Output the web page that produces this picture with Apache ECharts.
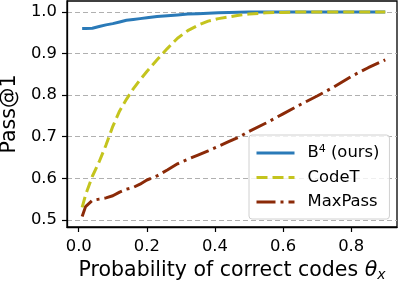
<!DOCTYPE html>
<html><head><meta charset="utf-8">
<script src="https://cdn.jsdelivr.net/npm/echarts@6/dist/echarts.min.js"></script>
<style>html,body{margin:0;padding:0;background:#fff}#c{width:399px;height:287px}</style>
</head><body><div id="c"></div>
<script>
const xs = [0.01,0.02,0.04,0.06,0.08,0.10,0.12,0.14,0.16,0.18,0.20,0.23,0.26,0.29,0.32,0.35,0.38,0.41,0.44,0.47,0.50,0.55,0.60,0.65,0.70,0.75,0.80,0.85,0.90];
const b4 = [0.960,0.960,0.961,0.965,0.969,0.972,0.976,0.980,0.982,0.984,0.986,0.989,0.991,0.993,0.995,0.996,0.997,0.998,0.999,0.9995,1.0,1.0,1.0,1.0,1.0,1.0,1.0,1.0,1.0];
const codeT = [0.530,0.560,0.605,0.640,0.680,0.725,0.762,0.790,0.815,0.837,0.857,0.885,0.912,0.937,0.955,0.968,0.978,0.984,0.988,0.992,0.995,0.998,0.999,1.0,1.0,1.0,1.0,1.0,1.0];
const maxPass = [0.508,0.532,0.547,0.550,0.553,0.558,0.567,0.574,0.578,0.586,0.596,0.606,0.620,0.635,0.646,0.656,0.666,0.677,0.688,0.699,0.713,0.733,0.755,0.777,0.798,0.820,0.845,0.866,0.885];
const xTicks = [0.0,0.2,0.4,0.6,0.8];
const yTicks = [0.5,0.6,0.7,0.8,0.9,1.0];
const seriesNames = ['B4 (ours)','CodeT','MaxPass'];

const pair = ys => xs.map((x,i)=>[x,ys[i]]);
const font = 'DejaVu Sans';
const chart = echarts.init(document.getElementById('c'), null, {renderer:'canvas'});
chart.setOption({
  animation:false,
  backgroundColor:'#fff',
  grid:{left:67,right:2,top:1,bottom:60,outerBoundsMode:'none',containLabel:false,show:true,borderColor:'#000',borderWidth:1.3,backgroundColor:'transparent'},
  xAxis:{type:'value',min:-0.0345,max:0.9345,
    name:'Probability of correct codes {it|θ}{sub|x}',nameLocation:'middle',nameGap:20,
    nameTextStyle:{fontFamily:font,fontSize:20.5,color:'#000',rich:{it:{fontFamily:font,fontSize:20.5,fontStyle:'italic',color:'#000'},sub:{fontFamily:font,fontSize:14,fontStyle:'italic',color:'#000',verticalAlign:'bottom',padding:[10,0,0,0]}}},
    axisLine:{show:true,onZero:false,lineStyle:{color:'#000',width:1.3}},
    axisTick:{show:true,length:5,inside:false,lineStyle:{color:'#000',width:1.2},customValues:xTicks},
    axisLabel:{customValues:xTicks,formatter:v=>v.toFixed(1),fontFamily:font,fontSize:16.4,color:'#000',margin:12},
    splitLine:{show:false}},
  yAxis:{type:'value',min:0.483,max:1.0264,
    name:'Pass@1',nameLocation:'middle',nameGap:42,nameRotate:90,
    nameTextStyle:{fontFamily:font,fontSize:20.5,color:'#000'},
    axisLine:{show:true,onZero:false,lineStyle:{color:'#000',width:1.3}},
    axisTick:{show:true,length:5,inside:false,lineStyle:{color:'#000',width:1.2},customValues:yTicks},
    axisLabel:{customValues:yTicks,formatter:v=>v.toFixed(1),fontFamily:font,fontSize:16.4,color:'#000',margin:10},
    splitLine:{show:true,lineStyle:{color:'#b0b0b0',type:[5,3],width:1}}},
  legend:{orient:'vertical',left:249,top:135,itemWidth:38,itemHeight:14,itemGap:6.5,
    padding:[9,10,8,6],backgroundColor:'rgba(255,255,255,0.8)',borderColor:'#d0d0d0',borderWidth:1,borderRadius:3,
    itemStyle:{opacity:0},lineStyle:{width:3},
    formatter:n=>n==='B4 (ours)'?'B{sup|4} (ours)':n,
    textStyle:{fontFamily:font,fontSize:16.4,lineHeight:18,color:'#000',padding:[0,0,0,8],rich:{sup:{fontFamily:font,fontSize:11,color:'#000',verticalAlign:'top',padding:[0,0,8,0]}}},
    data:seriesNames},
  series:[
    {name:seriesNames[0],type:'line',data:pair(b4),symbol:'none',lineStyle:{color:'#2a7ab8',width:3,cap:'butt'},itemStyle:{color:'#2a7ab8'},z:3},
    {name:seriesNames[1],type:'line',data:pair(codeT),symbol:'none',lineStyle:{color:'#c4c41e',width:3,type:[11,5],cap:'butt'},itemStyle:{color:'#c4c41e'},z:4},
    {name:seriesNames[2],type:'line',data:pair(maxPass),symbol:'none',lineStyle:{color:'#8b2a08',width:3,type:[19,5,3,5],cap:'butt'},itemStyle:{color:'#8b2a08'},z:2}
  ]
});
</script></body></html>
